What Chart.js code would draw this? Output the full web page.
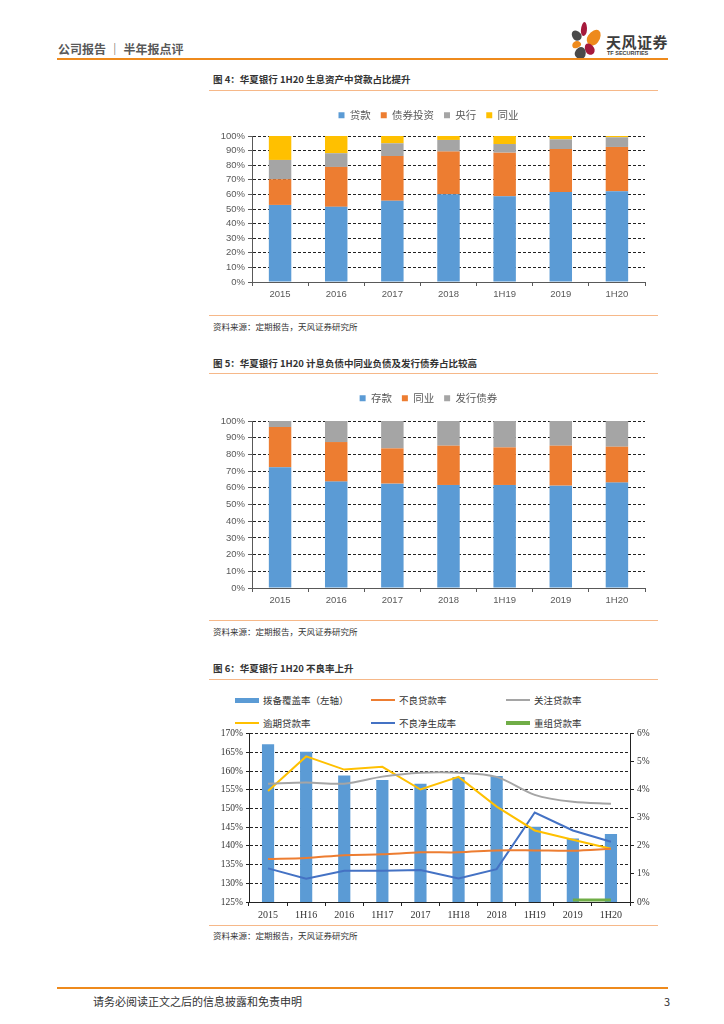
<!DOCTYPE html>
<html>
<head>
<meta charset="utf-8">
<script src="https://cdn.jsdelivr.net/npm/chart.js@4.4.0/dist/chart.umd.min.js"></script>
<style>
body{margin:0;width:724px;height:1024px;position:relative;background:#fff;overflow:hidden;font-family:"Noto Sans CJK SC","Noto Sans",sans-serif}
.hl{position:absolute;left:209px;width:449px;height:0;border-top:1.5px solid #F6B889}
.title{position:absolute;left:213px;font-size:9.5px;font-weight:bold;color:#333;line-height:12px;white-space:nowrap}
.src{position:absolute;left:213px;font-size:8.5px;color:#333;line-height:11px;white-space:nowrap}
canvas{position:absolute}
.pet{position:absolute;border-radius:50% 50% 50% 50%/60% 60% 40% 40%}
.lg{position:absolute;font-size:9.5px;color:#333;line-height:12px;white-space:nowrap}
.lg i{position:absolute;left:-28px;width:24px;top:5px}
</style>
</head>
<body>
<!-- header -->
<div style="position:absolute;left:58px;top:40px;font-size:12px;font-weight:bold;color:#595959;white-space:nowrap">公司报告 ｜ 半年报点评</div>
<div class="pet" style="left:581px;top:22px;width:6px;height:14px;background:#A6193C;transform:rotate(5deg)"></div>
<div class="pet" style="left:572px;top:30px;width:9px;height:11px;background:#4A4A4A;transform:rotate(-40deg)"></div>
<div class="pet" style="left:588px;top:29px;width:12px;height:17px;background:#EE8A1C;transform:rotate(35deg)"></div>
<div class="pet" style="left:572px;top:41px;width:9px;height:7px;background:#EE8A1C;transform:rotate(-20deg)"></div>
<div class="pet" style="left:585px;top:43px;width:9px;height:12px;background:#A6193C;transform:rotate(-30deg)"></div>
<div class="pet" style="left:575px;top:47px;width:11px;height:12px;background:#4A4A4A;transform:rotate(20deg)"></div>
<div style="position:absolute;left:606px;top:31px;font-size:15px;font-weight:bold;color:#3C3C3C;letter-spacing:0.5px;white-space:nowrap">天风证券</div>
<div style="position:absolute;left:607px;top:50px;font-size:5.5px;font-weight:bold;color:#3C3C3C;font-family:'Liberation Sans';white-space:nowrap">TF SECURITIES</div>
<div style="position:absolute;left:57px;top:58px;width:611px;border-top:2px solid #EE8A1C"></div>

<!-- figure 4 -->
<div class="title" style="top:73px">图 4：华夏银行 1H20 生息资产中贷款占比提升</div>
<div class="hl" style="top:90px"></div>
<canvas id="c1" width="450" height="205" style="left:212px;top:100px;width:450px;height:205px"></canvas>
<div class="hl" style="top:315px"></div>
<div class="src" style="top:321px">资料来源：定期报告，天风证券研究所</div>

<!-- figure 5 -->
<div class="title" style="top:357px">图 5：华夏银行 1H20 计息负债中同业负债及发行债券占比较高</div>
<div class="hl" style="top:373px"></div>
<canvas id="c2" width="450" height="227" style="left:212px;top:383px;width:450px;height:227px"></canvas>
<div class="hl" style="top:620px"></div>
<div class="src" style="top:626px">资料来源：定期报告，天风证券研究所</div>

<!-- figure 6 -->
<div class="title" style="top:662px">图 6：华夏银行 1H20 不良率上升</div>
<div class="hl" style="top:679px"></div>
<div id="lg3"></div>
<canvas id="c3" width="455" height="200" style="left:205px;top:725px;width:455px;height:200px"></canvas>
<div class="hl" style="top:925px"></div>
<div class="src" style="top:930px">资料来源：定期报告，天风证券研究所</div>

<!-- footer -->
<div style="position:absolute;left:57px;top:987px;width:611px;border-top:2px solid #EE8A1C"></div>
<div style="position:absolute;left:93px;top:993px;font-size:11px;color:#333;white-space:nowrap">请务必阅读正文之后的信息披露和免责申明</div>
<div style="position:absolute;left:664px;top:993px;font-size:11px;color:#333">3</div>

<script>
// 图4 生息资产结构（%）
var years1 = ['2015', '2016', '2017', '2018', '1H19', '2019', '1H20'];
var loans = [52.8, 51.5, 55.6, 60.1, 58.8, 61.7, 62.2];
var bondInv = [17.6, 27.3, 30.7, 29.2, 29.8, 29.4, 30.3];
var centralBank = [13.2, 9.4, 8.7, 8.0, 5.9, 6.6, 6.6];
var interbankAsset = [16.4, 11.8, 5.0, 2.7, 5.5, 2.3, 0.9];

// 图5 计息负债结构（%）
var deposits = [72.3, 63.7, 62.5, 61.7, 61.7, 61.3, 63.1];
var interbankLiab = [24.1, 23.7, 21.1, 23.5, 22.5, 23.9, 21.5];
var bondsIssued = [3.6, 12.6, 16.4, 14.8, 15.8, 14.8, 15.4];

// 图6 资产质量
var periods3 = ['2015', '1H16', '2016', '1H17', '2017', '1H18', '2018', '1H19', '2019', '1H20'];
var coverage = [167.2, 165.2, 158.8, 157.6, 156.6, 158.4, 158.7, 145.1, 142.0, 143.2];
var nplRatio = [1.53, 1.57, 1.67, 1.70, 1.77, 1.77, 1.84, 1.84, 1.83, 1.90];
var specialMention = [4.22, 4.26, 4.22, 4.47, 4.61, 4.61, 4.46, 3.82, 3.57, 3.50];
var overdue = [3.96, 5.19, 4.72, 4.82, 4.01, 4.46, 3.40, 2.55, 2.22, 1.90];
var netFormation = [1.20, 0.83, 1.11, 1.11, 1.14, 0.84, 1.17, 3.19, 2.55, 2.15];
var restructured = [null, null, null, null, null, null, null, null, 0.07, 0.07];

var cjk = '"Noto Sans CJK SC", sans-serif';
var tickFont = {family: '"Liberation Sans", sans-serif', size: 9.5};
var serif = {family: '"Liberation Serif", serif', size: 10};

// 把图例高度固定住，方便对齐绘图区
var legendHeight = {
    id: 'legendHeight',
    beforeInit: function(chart, args, opts){
        var fit = chart.legend.fit;
        chart.legend.fit = function(){
            fit.bind(chart.legend)();
            this.height = opts.h;
        };
    }
};

function stackedOptions(legendH, xH){
    return {
        responsive: false,
        animation: false,
        layout: {padding: {right: 17}},
        plugins: {
            legendHeight: {h: legendH},
            legend: {
                labels: {boxWidth: 6, boxHeight: 6, padding: 10, color: '#595959', font: {family: cjk, size: 10.5}}
            },
            tooltip: {enabled: false}
        },
        scales: {
            x: {
                stacked: true,
                grid: {offset: true, drawOnChartArea: false, tickLength: 4, color: '#595959'},
                border: {color: '#595959'},
                ticks: {color: '#595959', font: tickFont, padding: 3},
                afterFit: function(s){ s.height = xH; }
            },
            y: {
                stacked: true,
                min: 0,
                max: 100,
                ticks: {stepSize: 10, autoSkip: false, color: '#595959', font: tickFont, padding: 3, callback: function(v){ return v + '%'; }},
                grid: {color: '#222', tickColor: '#595959', tickLength: 4},
                border: {color: '#595959', dash: [3, 2]},
                afterFit: function(s){ s.width = 40; }
            }
        }
    };
}

new Chart(document.getElementById('c1'), {
    type: 'bar',
    data: {
        labels: years1,
        datasets: [
            {label: '贷款', data: loans, backgroundColor: '#5B9BD5', barPercentage: 0.4, categoryPercentage: 1},
            {label: '债券投资', data: bondInv, backgroundColor: '#ED7D31', barPercentage: 0.4, categoryPercentage: 1},
            {label: '央行', data: centralBank, backgroundColor: '#A5A5A5', barPercentage: 0.4, categoryPercentage: 1},
            {label: '同业', data: interbankAsset, backgroundColor: '#FFC000', barPercentage: 0.4, categoryPercentage: 1}
        ]
    },
    options: stackedOptions(36, 23),
    plugins: [legendHeight]
});

new Chart(document.getElementById('c2'), {
    type: 'bar',
    data: {
        labels: years1,
        datasets: [
            {label: '存款', data: deposits, backgroundColor: '#5B9BD5', barPercentage: 0.4, categoryPercentage: 1},
            {label: '同业', data: interbankLiab, backgroundColor: '#ED7D31', barPercentage: 0.4, categoryPercentage: 1},
            {label: '发行债券', data: bondsIssued, backgroundColor: '#A5A5A5', barPercentage: 0.4, categoryPercentage: 1}
        ]
    },
    options: stackedOptions(38, 22),
    plugins: [legendHeight]
});

// 图6 图例（三列两行）
var legend3 = [
    ['拨备覆盖率（左轴）', '#5B9BD5', 5, 263, 694],
    ['不良贷款率', '#ED7D31', 2.5, 399, 694],
    ['关注贷款率', '#A5A5A5', 2.5, 534, 694],
    ['逾期贷款率', '#FFC000', 2.5, 263, 717],
    ['不良净生成率', '#4472C4', 2.5, 399, 717],
    ['重组贷款率', '#70AD47', 4, 534, 717]
];
var lgBox = document.getElementById('lg3');
legend3.forEach(function(it){
    var d = document.createElement('div');
    d.className = 'lg';
    d.style.left = it[3] + 'px';
    d.style.top = it[4] + 'px';
    d.innerHTML = '<i style="background:' + it[1] + ';height:' + it[2] + 'px;margin-top:' + (-it[2] / 2 + 1) + 'px"></i>' + it[0];
    lgBox.appendChild(d);
});

function line3(label, data, color, tension){
    return {
        type: 'line', label: label, data: data, yAxisID: 'y1', order: 1,
        borderColor: color, backgroundColor: color, borderWidth: 2,
        pointRadius: 0, tension: tension, spanGaps: false
    };
}

new Chart(document.getElementById('c3'), {
    type: 'bar',
    data: {
        labels: periods3,
        datasets: [
            {label: '拨备覆盖率（左轴）', data: coverage, backgroundColor: '#5B9BD5', yAxisID: 'y', order: 2, barPercentage: 0.32, categoryPercentage: 1},
            line3('不良贷款率', nplRatio, '#ED7D31', 0.3),
            line3('关注贷款率', specialMention, '#A5A5A5', 0.3),
            line3('逾期贷款率', overdue, '#FFC000', 0),
            line3('不良净生成率', netFormation, '#4472C4', 0),
            Object.assign(line3('重组贷款率', restructured, '#70AD47', 0), {borderWidth: 3})
        ]
    },
    options: {
        responsive: false,
        animation: false,
        layout: {padding: {top: 7}},
        plugins: {legend: {display: false}, tooltip: {enabled: false}},
        scales: {
            x: {
                grid: {offset: true, drawOnChartArea: false, tickLength: 4, color: '#222'},
                border: {color: '#222'},
                ticks: {color: '#333', font: serif, padding: 3},
                afterFit: function(s){ s.height = 23; }
            },
            y: {
                position: 'left',
                min: 125,
                max: 170,
                ticks: {stepSize: 5, autoSkip: false, color: '#333', font: {family: '"Liberation Serif", serif', size: 9.5}, padding: 3, callback: function(v){ return v + '%'; }},
                grid: {color: '#222', tickColor: '#222', tickLength: 3},
                border: {color: '#222', dash: [3, 2]},
                afterFit: function(s){ s.width = 44; }
            },
            y1: {
                position: 'right',
                min: 0,
                max: 6,
                ticks: {stepSize: 1, autoSkip: false, color: '#333', font: {family: '"Liberation Serif", serif', size: 9.5}, padding: 3, callback: function(v){ return v + '%'; }},
                grid: {drawOnChartArea: false, tickColor: '#222', tickLength: 4},
                border: {color: '#222'},
                afterFit: function(s){ s.width = 30; }
            }
        }
    }
});
</script>
</body>
</html>
